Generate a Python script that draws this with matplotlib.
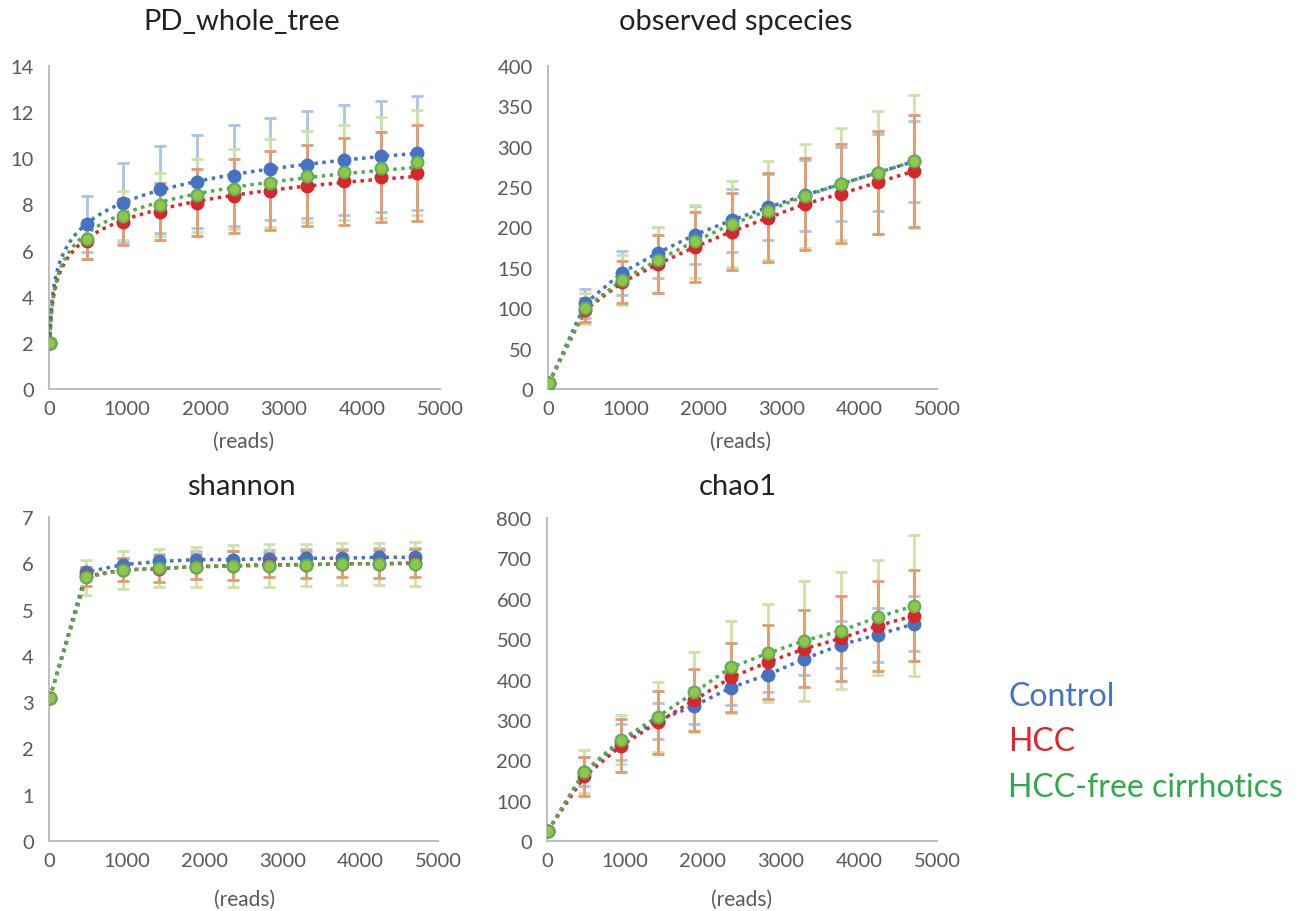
import numpy as np
import matplotlib
matplotlib.use('Agg')
import matplotlib.pyplot as plt

plt.rcParams['font.family'] = ['Lato', 'DejaVu Sans']

# rarefaction depths (reads)
reads = [10, 480, 950, 1420, 1890, 2360, 2830, 3300, 3770, 4240, 4710]
groups = ['Control', 'HCC', 'HCC-free cirrhotics']

# PD_whole_tree
pd_mean = {
    'Control': [2.0, 7.15, 8.07, 8.65, 8.99, 9.25, 9.54, 9.73, 9.93, 10.09, 10.23],
    'HCC': [2.0, 6.40, 7.23, 7.69, 8.07, 8.36, 8.60, 8.82, 9.00, 9.18, 9.37],
    'HCC-free cirrhotics': [2.0, 6.48, 7.52, 7.98, 8.39, 8.67, 8.93, 9.22, 9.39, 9.60, 9.83],
}
pd_err = {
    'Control': [0, 1.23, 1.71, 1.88, 2.00, 2.18, 2.22, 2.30, 2.37, 2.40, 2.45],
    'HCC': [0, 0.75, 1.00, 1.22, 1.45, 1.62, 1.73, 1.77, 1.90, 1.95, 2.07],
    'HCC-free cirrhotics': [0, 0.85, 1.08, 1.37, 1.60, 1.73, 1.91, 1.98, 2.07, 2.17, 2.27],
}

# observed species
obs_mean = {
    'Control': [7, 106, 144, 169, 191, 209, 225, 240, 254, 268, 282],
    'HCC': [7, 98, 132, 155, 176, 195, 212, 229, 242, 256, 270],
    'HCC-free cirrhotics': [7, 100, 135, 160, 183, 204, 221, 239, 254, 268, 282],
}
obs_err = {
    'Control': [0, 18, 27, 32, 36, 39, 41, 44, 46, 48, 50],
    'HCC': [0, 15, 26, 36, 43, 48, 55, 57, 61, 64, 69],
    'HCC-free cirrhotics': [0, 19, 31, 41, 45, 53, 61, 65, 69, 76, 82],
}

# shannon
sh_mean = {
    'Control': [3.09, 5.81, 5.97, 6.04, 6.08, 6.08, 6.10, 6.11, 6.11, 6.13, 6.13],
    'HCC': [3.09, 5.72, 5.86, 5.88, 5.93, 5.95, 5.97, 5.97, 5.99, 5.99, 6.01],
    'HCC-free cirrhotics': [3.09, 5.70, 5.85, 5.90, 5.92, 5.94, 5.95, 5.97, 5.99, 5.99, 5.99],
}
sh_err = {
    'Control': [0, 0.12, 0.15, 0.17, 0.18, 0.19, 0.19, 0.20, 0.20, 0.21, 0.21],
    'HCC': [0, 0.20, 0.25, 0.29, 0.28, 0.32, 0.26, 0.29, 0.29, 0.30, 0.30],
    'HCC-free cirrhotics': [0, 0.38, 0.41, 0.41, 0.43, 0.45, 0.47, 0.45, 0.45, 0.45, 0.47],
}

# chao1
chao_mean = {
    'Control': [25, 172, 246, 298, 335, 380, 412, 451, 486, 511, 538],
    'HCC': [25, 160, 236, 294, 349, 405, 443, 476, 502, 533, 558],
    'HCC-free cirrhotics': [25, 172, 251, 308, 368, 430, 465, 496, 521, 554, 583],
}
chao_err = {
    'Control': [0, 35, 45, 45, 45, 42, 42, 40, 58, 67, 68],
    'HCC': [0, 48, 65, 78, 77, 85, 92, 95, 105, 112, 112],
    'HCC-free cirrhotics': [0, 53, 61, 87, 99, 114, 121, 149, 145, 143, 174],
}

line_col = {'Control': '#4472C4', 'HCC': '#E0262B', 'HCC-free cirrhotics': '#4FAE4A'}
err_col = {'Control': '#A9C4E8', 'HCC': '#E39A6E', 'HCC-free cirrhotics': '#CDE3A4'}
face_col = {'Control': '#4472C4', 'HCC': '#D9262B', 'HCC-free cirrhotics': '#93C647'}
edge_col = {'Control': '#4472C4', 'HCC': '#D9262B', 'HCC-free cirrhotics': '#5BAF5B'}

fig = plt.figure(figsize=(12.96, 9.12), dpi=100)
W, H = 1296, 912


def make_ax(x0, x1, y_top, y_bot):
    return fig.add_axes([x0 / W, 1 - y_bot / H, (x1 - x0) / W, (y_bot - y_top) / H])


def draw(ax, mean, err, ymax, ystep, logfit=False):
    x = np.array(reads)
    for g in ['Control', 'HCC-free cirrhotics', 'HCC']:
        ax.errorbar(x[1:], mean[g][1:], yerr=err[g][1:], fmt='none',
                    ecolor=err_col[g], elinewidth=2, capsize=4, capthick=2, zorder=2)
    for g in groups:
        y = np.array(mean[g])
        if logfit:
            a, b = np.polyfit(np.log(x), y, 1)
            xs = np.geomspace(x[0], x[-1], 200)
            ax.plot(xs, a * np.log(xs) + b, ls=(0, (1, 1.3)), lw=2.5, color=line_col[g], zorder=3)
        else:
            ax.plot(x, y, ls=(0, (1, 1.3)), lw=2.5, color=line_col[g], zorder=3)
        ax.plot(x, y, 'o', ms=8.5, mfc=face_col[g], mec=edge_col[g], mew=1.5, zorder=4)
    ax.set_xlim(0, 5000)
    ax.set_ylim(0, ymax)
    ax.set_xticks(range(0, 5001, 1000))
    ax.set_yticks(np.arange(0, ymax + ystep / 2, ystep))
    for s in ['top', 'right']:
        ax.spines[s].set_visible(False)
    for s in ['left', 'bottom']:
        ax.spines[s].set_color('#BFBFBF')
        ax.spines[s].set_linewidth(1.5)
    ax.tick_params(length=0, labelsize=14.5, colors='#595959')
    ax.tick_params(axis='y', pad=11)
    ax.tick_params(axis='x', pad=8)
    ax.patch.set_alpha(0)


ax1 = make_ax(49, 440, 67, 390)
draw(ax1, pd_mean, pd_err, 14, 2, logfit=True)
ax2 = make_ax(548, 937, 67, 390)
draw(ax2, obs_mean, obs_err, 400, 50)
ax3 = make_ax(49, 438, 518, 842)
draw(ax3, sh_mean, sh_err, 7, 1)
ax4 = make_ax(547, 937, 519, 842)
draw(ax4, chao_mean, chao_err, 800, 100)

title_kw = dict(ha='center', va='center', fontsize=21, color='#222222')
fig.text(242 / W, 1 - 22 / H, 'PD_whole_tree', **title_kw)
fig.text(736 / W, 1 - 22 / H, 'observed spcecies', **title_kw)
fig.text(241 / W, 1 - 487 / H, 'shannon', **title_kw)
fig.text(738 / W, 1 - 487 / H, 'chao1', **title_kw)

lab_kw = dict(ha='center', va='center', fontsize=15, color='#595959')
fig.text(244 / W, 1 - 442 / H, '(reads)', **lab_kw)
fig.text(741 / W, 1 - 442 / H, '(reads)', **lab_kw)
fig.text(245 / W, 1 - 900 / H, '(reads)', **lab_kw)
fig.text(742 / W, 1 - 900 / H, '(reads)', **lab_kw)

leg_col = {'Control': '#4472C4', 'HCC': '#E3242B', 'HCC-free cirrhotics': '#2EAA4A'}
for g, yy in zip(groups, [697, 742, 788]):
    fig.text(1008 / W, 1 - yy / H, g, ha='left', va='center', fontsize=23, color=leg_col[g])

fig.savefig('out.png', dpi=100)
